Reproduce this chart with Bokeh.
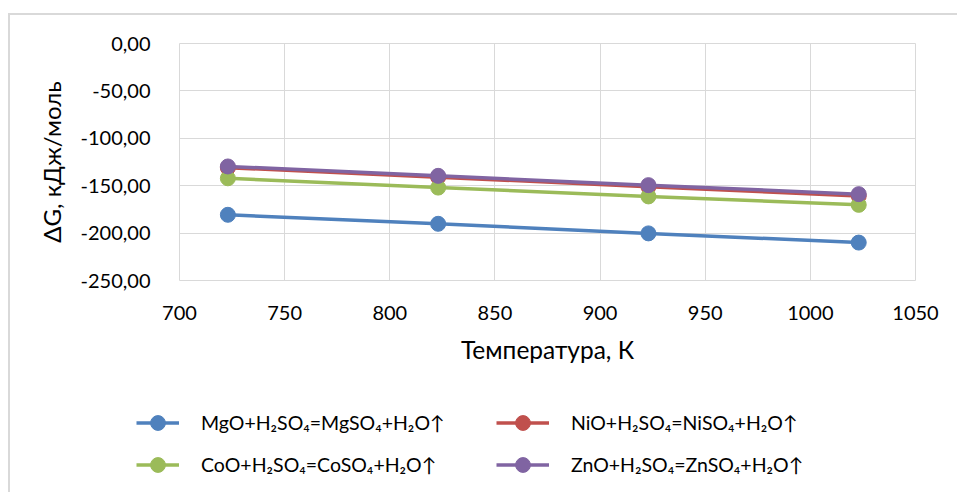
from bokeh.plotting import figure
from bokeh.layouts import column
from bokeh.models import FixedTicker, Legend, LegendItem, Range1d, ColumnDataSource
from bokeh.embed import file_html
from bokeh.resources import INLINE

# ---- data ----
temperature = [723, 823, 923, 1023]
mgo = [-180.7, -190.2, -200.3, -210.0]
nio = [-131.0, -141.0, -151.0, -160.8]
coo = [-142.2, -152.0, -161.3, -170.2]
zno = [-129.7, -139.6, -149.4, -158.9]

series_names = [
    "MgO+H₂SO₄=MgSO₄+H₂O↑",
    "NiO+H₂SO₄=NiSO₄+H₂O↑",
    "CoO+H₂SO₄=CoSO₄+H₂O↑",
    "ZnO+H₂SO₄=ZnSO₄+H₂O↑",
]
series_colors = ["#4F81BD", "#C0504D", "#9BBB59", "#8064A2"]

x_ticks = [700, 750, 800, 850, 900, 950, 1000, 1050]
y_ticks = [0, -50, -100, -150, -200, -250]
y_tick_labels = ["0,00", "-50,00", "-100,00", "-150,00", "-200,00", "-250,00"]

x_title = "Температура, К"
y_title = "ΔG, кДж/моль"

FONT = "Lato"
GRID = "#d9d9d9"
TXT = "#000000"

sources = [ColumnDataSource(dict(t=temperature, g=vals)) for vals in (mgo, nio, coo, zno)]

# ---- main chart ----
p = figure(
    width=947, height=370,
    x_range=Range1d(700, 1050), y_range=Range1d(-250, 0),
    output_backend="svg", toolbar_location=None,
    min_border_left=169, min_border_right=42,
    min_border_top=28, min_border_bottom=105,
)
p.frame_align = False
p.outline_line_color = GRID
p.background_fill_color = "white"
p.border_fill_color = "white"

p.xaxis.ticker = FixedTicker(ticks=x_ticks)
p.yaxis.ticker = FixedTicker(ticks=y_ticks)
p.yaxis.major_label_overrides = {t: l for t, l in zip(y_ticks, y_tick_labels)}
p.xgrid.grid_line_color = GRID
p.ygrid.grid_line_color = GRID

for ax in (p.xaxis[0], p.yaxis[0]):
    ax.axis_line_color = None
    ax.major_tick_line_color = None
    ax.minor_tick_line_color = None
    ax.major_label_text_font = FONT
    ax.major_label_text_font_size = "20px"
    ax.major_label_text_color = TXT
    ax.axis_label_text_font = FONT
    ax.axis_label_text_font_style = "normal"
    ax.axis_label_text_color = TXT
p.xaxis.axis_label_text_font_size = "24.5px"
p.yaxis.axis_label_text_font_size = "24px"

p.xaxis.axis_label = x_title
p.yaxis.axis_label = y_title
p.xaxis.major_label_standoff = 19
p.xaxis.axis_label_standoff = 12
p.yaxis.major_label_standoff = 23
p.yaxis.axis_label_standoff = 12

for src, col in zip(sources, series_colors):
    p.line("t", "g", source=src, line_color=col, line_width=3.5)
    p.scatter("t", "g", source=src, size=15, fill_color=col, line_color=col)

# ---- legend strip ----
q = figure(
    width=947, height=108,
    x_range=Range1d(0, 1), y_range=Range1d(0, 1),
    x_axis_type=None, y_axis_type=None,
    output_backend="svg", toolbar_location=None,
    min_border_left=0, min_border_right=0, min_border_top=0, min_border_bottom=0,
)
q.frame_align = False
q.outline_line_color = None
q.xgrid.visible = False
q.ygrid.visible = False
q.background_fill_color = "white"
q.border_fill_color = "white"

leg_renderers = []
for src, col in zip(sources, series_colors):
    ln = q.line("t", "g", source=src, line_color=col, line_width=3.5)
    sc = q.scatter("t", "g", source=src, size=15, fill_color=col, line_color=col)
    leg_renderers.append([ln, sc])

def make_legend(idx, loc, gw):
    items = [LegendItem(label=series_names[i], renderers=leg_renderers[i]) for i in idx]
    return Legend(items=items, location=loc, orientation="vertical",
                  glyph_width=gw, glyph_height=37, spacing=5,
                  label_standoff=22, padding=0, margin=0,
                  border_line_color=None, background_fill_alpha=0,
                  label_text_font=FONT, label_text_font_size="19.5px",
                  label_text_color=TXT)

q.add_layout(make_legend([0, 2], (126, 10), 43))
q.add_layout(make_legend([1, 3], (486, 10), 53))

layout = column(p, q, spacing=0, styles={
    "margin-left": "8px", "margin-top": "13px",
    "border-left": "2px solid #d9d9d9", "border-top": "2px solid #d9d9d9",
})

open("out.html", "w").write(file_html(layout, INLINE))
